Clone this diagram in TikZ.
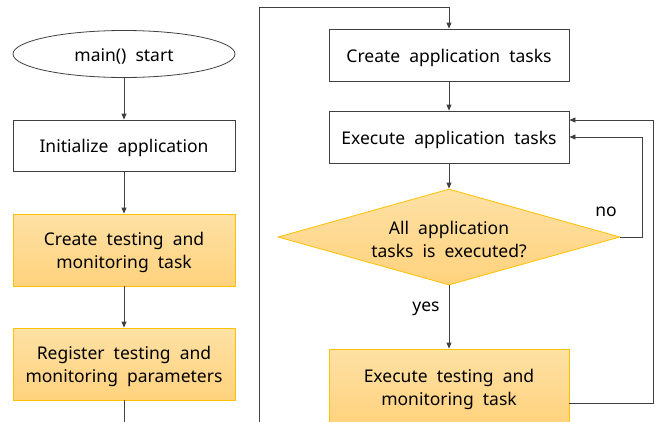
\documentclass[tikz,border=0pt]{standalone}
\usepackage{fontspec}
\setmainfont{Noto Sans}
\usetikzlibrary{shapes.geometric,arrows.meta,calc}
\definecolor{ln}{RGB}{64,64,64}
\definecolor{obord}{RGB}{255,192,0}
\definecolor{otop}{RGB}{254,225,165}
\definecolor{obot}{RGB}{255,210,125}
\tikzset{
  x=1pt,y=-1pt,
  every node/.style={inner sep=0pt},
  txt/.style={font=\fontsize{17.5}{23}\selectfont, text=black, align=center, inner sep=0pt, yshift=-2.5pt},
  wbox/.style={draw=ln, line width=0.8pt, fill=white, rectangle, minimum width=#1},
  obox/.style={draw=obord, line width=0.8pt, top color=otop, bottom color=obot, rectangle, minimum width=#1},
  conn/.style={draw=ln, line width=0.8pt, -{Triangle[length=6pt,width=5pt]}},
  plain/.style={draw=ln, line width=0.8pt},
}
\begin{document}
\begin{tikzpicture}
\useasboundingbox (0,0) rectangle (661,421);
\clip (0,0) rectangle (661,421);
% left column
\node[ellipse, draw=ln, line width=0.8pt, minimum width=222, minimum height=47] (start) at (124,54) {};
\node[txt] (start-t) at (start) {main()\ \ start};
\node[wbox=222, minimum height=51] (init) at (124,145.5) {};
\node[txt] (init-t) at (init) {Initialize\ \ application};
\node[obox=222, minimum height=72] (ctm) at (124,250) {};
\node[txt] (ctm-t) at (ctm) {Create\ \ testing\ \ and\\monitoring\ \ task};
\node[obox=222, minimum height=72] (reg) at (124,364) {};
\node[txt] (reg-t) at (reg) {Register\ \ testing\ \ and\\monitoring\ \ parameters};
\coordinate (lbot) at (124,425);
\draw[conn] (start) -- (init);
\draw[conn] (init) -- (ctm);
\draw[conn] (ctm) -- (reg);
\draw[plain] (reg) -- (lbot);
% right column
\node[wbox=240, minimum height=52] (cat) at (449,55) {};
\node[txt] (cat-t) at (cat) {Create\ \ application\ \ tasks};
\node[wbox=240, minimum height=52] (eat) at (449,137) {};
\node[txt] (eat-t) at (eat) {Execute\ \ application\ \ tasks};
\node[diamond, draw=obord, line width=0.8pt, top color=otop, bottom color=obot, minimum width=342, minimum height=96, aspect=3.56] (dec) at (449,237) {};
\node[txt] (dec-t) at (dec) {All\ \ application\\tasks\ \ is\ \ executed?};
\node[obox=240, minimum height=76] (ett) at (449,387) {};
\node[txt] (ett-t) at (ett) {Execute\ \ testing\ \ and\\monitoring\ \ task};
\coordinate (rbot) at (259,425);
\coordinate (rtop) at (259,7);
\coordinate (nox) at (642,237);
\coordinate (rlx) at (653,403);
\draw[conn] (rbot) -- (rtop) -| (cat);
\draw[conn] (cat) -- (eat);
\draw[conn] (eat) -- (dec);
\draw[conn] (dec.south) -- (ett.north);
\node[txt] (yes) at (426,306) {yes};
\draw[conn] (dec.east) -- (nox) |- (eat.east |- 0,137);
\node[txt] (no) at (606,209) {no};
\draw[conn] (ett.east |- rlx) -- (rlx) |- (eat.east |- 0,120);
\end{tikzpicture}
\end{document}
